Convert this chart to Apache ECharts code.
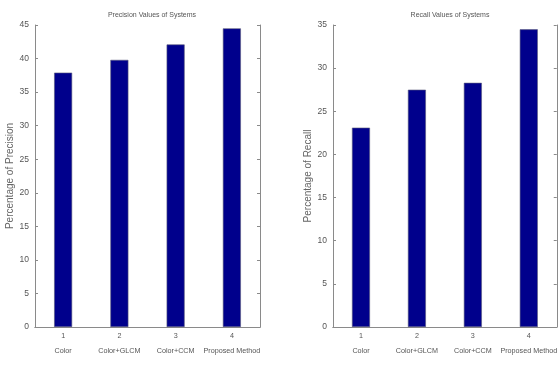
<!DOCTYPE html>
<html><head><meta charset="utf-8">
<script src="https://cdn.jsdelivr.net/npm/echarts@6/dist/echarts.min.js"></script>
<style>html,body{margin:0;padding:0;background:#fff}#c{width:560px;height:365px}</style>
</head><body><div id="c"></div>
<script>
const categories = ['Color', 'Color+GLCM', 'Color+CCM', 'Proposed Method'];
const tickNumbers = ['1', '2', '3', '4'];
const precisionValues = [37.9, 39.8, 42.1, 44.5];
const recallValues = [23.1, 27.5, 28.3, 34.5];
const titles = ['Precision Values of Systems', 'Recall Values of Systems'];
const yNames = ['Percentage of Precision', 'Percentage of Recall'];
const yMax = [45, 35];

const FONT = "'Liberation Sans', Arial, sans-serif";
const AX = '#8a8a8a';
const TXT = '#555';
const grids = [
  {left: 35, right: 300, top: 25, bottom: 38},
  {left: 333, right: 2, top: 25, bottom: 38}
];
const xAxes = [], yAxes = [], series = [];
[precisionValues, recallValues].forEach((vals, i) => {
  xAxes.push({
    type: 'category', gridIndex: i, data: categories, position: 'bottom',
    axisLine: {lineStyle: {color: AX, width: 1}},
    axisTick: {inside: true, alignWithLabel: true, length: 3, lineStyle: {color: AX}},
    axisLabel: {
      fontFamily: FONT, fontSize: 7.2, color: TXT, margin: 2, lineHeight: 15, interval: 0,
      formatter: (v, idx) => tickNumbers[idx] + '\n' + v
    }
  });
  xAxes.push({
    type: 'category', gridIndex: i, data: categories, position: 'top',
    axisLine: {lineStyle: {color: AX, width: 1}},
    axisTick: {inside: true, alignWithLabel: true, length: 3, lineStyle: {color: AX}},
    axisLabel: {show: false}
  });
  yAxes.push({
    type: 'value', gridIndex: i, min: 0, max: yMax[i], interval: 5, position: 'left',
    name: yNames[i], nameLocation: 'middle', nameGap: 16,
    nameTextStyle: {fontFamily: FONT, fontSize: 10, color: '#666'},
    axisLine: {show: true, lineStyle: {color: AX, width: 1}},
    axisTick: {show: true, inside: true, length: 3, lineStyle: {color: AX}},
    axisLabel: {fontFamily: FONT, fontSize: 8.5, color: TXT, margin: 6},
    splitLine: {show: false}
  });
  yAxes.push({
    type: 'value', gridIndex: i, min: 0, max: yMax[i], interval: 5, position: 'right',
    axisLine: {show: true, lineStyle: {color: AX, width: 1}},
    axisTick: {show: true, inside: true, length: 3, lineStyle: {color: AX}},
    axisLabel: {show: false},
    splitLine: {show: false}
  });
  series.push({
    type: 'bar', xAxisIndex: i * 2, yAxisIndex: i * 2, data: vals, barWidth: 18,
    itemStyle: {color: '#00008c', borderColor: '#5a5a7a', borderWidth: 0.6},
    silent: true
  });
});
const chart = echarts.init(document.getElementById('c'), null, {renderer: 'canvas'});
chart.setOption({
  animation: false,
  backgroundColor: '#fff',
  title: titles.map((t, i) => ({
    text: t, left: i === 0 ? 147 : 445, top: 7, textAlign: 'center',
    textStyle: {fontFamily: FONT, fontSize: 7, fontWeight: 'normal', color: TXT}
  })),
  grid: grids,
  xAxis: xAxes,
  yAxis: yAxes,
  series: series
});
</script></body></html>
